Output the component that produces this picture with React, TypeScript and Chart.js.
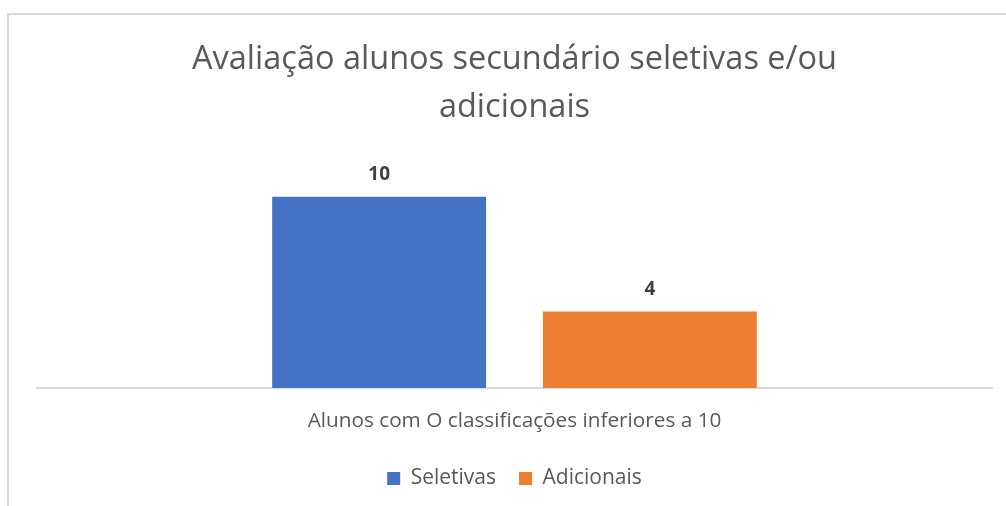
import React, { useEffect, useRef } from "react";
import { Chart, registerables } from "chart.js";

Chart.register(...registerables);

const titleLines = ["Avaliação alunos secundário seletivas e/ou", "adicionais"];
const categories = ["Alunos com O classificações inferiores a 10"];
const seriesNames = ["Seletivas", "Adicionais"];
const seletivas = [10];
const adicionais = [4];
const yRange = [0, 12];

const FONT = "'Open Sans', sans-serif";

const frame = {
  id: "frame",
  beforeDraw(chart: any) {
    const ctx = chart.ctx;
    ctx.save();
    ctx.fillStyle = "#ffffff";
    ctx.fillRect(0, 0, chart.width, chart.height);
    ctx.fillStyle = "#D9D9D9";
    ctx.fillRect(7, 13, chart.width, 2);
    ctx.fillRect(7, 13, 2, chart.height);
    ctx.restore();
  },
};

const dataLabels = {
  id: "dataLabels",
  afterDatasetsDraw(chart: any) {
    const ctx = chart.ctx;
    ctx.save();
    ctx.font = `bold 19px ${FONT}`;
    ctx.fillStyle = "#404040";
    ctx.textAlign = "center";
    ctx.textBaseline = "middle";
    chart.data.datasets.forEach((ds: any, i: number) => {
      const meta = chart.getDatasetMeta(i);
      meta.data.forEach((bar: any, j: number) => {
        ctx.fillText(String(ds.data[j]), bar.x, bar.y - 22);
      });
    });
    ctx.restore();
  },
};

export default function App() {
  const ref = useRef<HTMLCanvasElement>(null);
  useEffect(() => {
    if (!ref.current) return;
    const chart = new Chart(ref.current, {
      type: "bar",
      data: {
        labels: categories,
        datasets: [
          { label: seriesNames[0], data: seletivas, backgroundColor: "#4472C4", categoryPercentage: 0.567, barPercentage: 0.79 },
          { label: seriesNames[1], data: adicionais, backgroundColor: "#ED7D31", categoryPercentage: 0.567, barPercentage: 0.79 },
        ],
      },
      plugins: [frame, dataLabels],
      options: {
        responsive: false,
        animation: false,
        layout: { padding: { left: 37, right: 14, top: 0, bottom: 7 } },
        plugins: {
          title: {
            display: true,
            text: titleLines,
            color: "#595959",
            font: { family: FONT, size: 32.5, weight: "normal", lineHeight: 1.5 },
            padding: { top: 35, bottom: 26 },
          },
          legend: {
            position: "bottom",
            labels: {
              color: "#595959",
              font: { family: FONT, size: 21 },
              boxWidth: 13,
              boxHeight: 13,
              padding: 23,
            },
          },
          tooltip: { enabled: false },
        },
        scales: {
          x: {
            grid: { display: false, drawTicks: false },
            border: { display: true, color: "#D9D9D9", width: 2 },
            ticks: { color: "#595959", font: { family: FONT, size: 20.75 }, padding: 21 },
            afterFit: (scale: any) => {
              scale.height -= 10;
            },
          },
          y: {
            display: false,
            min: yRange[0],
            max: yRange[1],
          },
        },
      },
    });
    return () => chart.destroy();
  }, []);
  return (
    <div style={{ position: "fixed", left: 0, top: 0, width: 1006, height: 506 }}>
      <canvas ref={ref} width={1006} height={506} />
    </div>
  );
}
